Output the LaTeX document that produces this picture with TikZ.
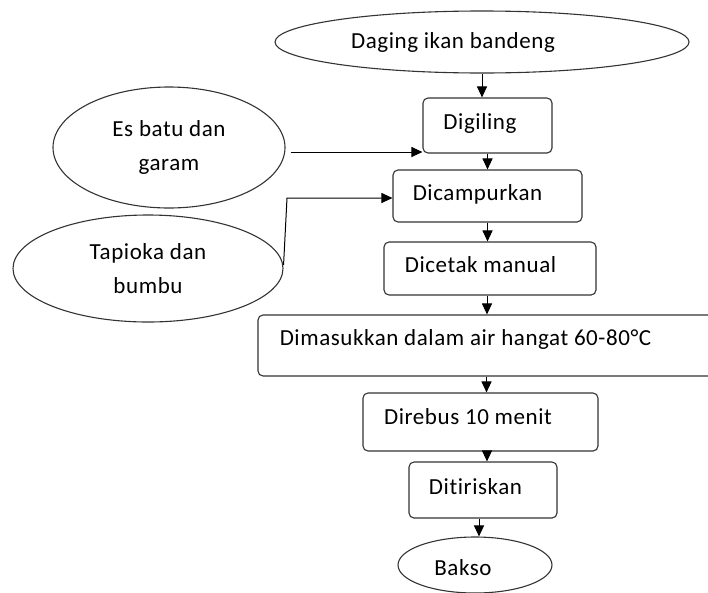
\documentclass[tikz,border=0pt]{standalone}
\usepackage{fontspec}
\setmainfont{Carlito}[Ligatures={NoCommon}, LetterSpace=2.5]
\usetikzlibrary{arrows.meta,shapes.geometric}
\begin{document}
\begin{tikzpicture}[x=1pt,y=-1pt,
  every node/.style={font=\fontsize{23}{34}\selectfont},
  shapeline/.style={draw=black!80, line width=1.1pt},
  oval/.style={shapeline, ellipse, inner sep=0pt, align=center},
  stepbox/.style={shapeline, rectangle, rounded corners=5pt, inner sep=0pt},
  arr/.style={line width=1pt, -{Triangle[length=11pt,width=10pt]}}
]
\useasboundingbox (0,0) rectangle (708,592);

% ovals
\node[oval, minimum width=414pt, minimum height=62pt] (daging) at (482,42) {};
\node at (453,42) {Daging ikan bandeng};
\node[oval, minimum width=232pt, minimum height=121pt] (es) at (169,147.5) {Es batu dan\\garam};
\node[oval, minimum width=270pt, minimum height=107pt] (tap) at (148,268.5) {Tapioka dan\\bumbu};
\node[oval, minimum width=154pt, minimum height=56pt] (bakso) at (475,565) {};
\node at (463,568) {Bakso};

% boxes
\node[stepbox, minimum width=129pt, minimum height=55pt,
  label={[xshift=-7.5pt,yshift=2.5pt]center:Digiling}] (dig) at (487.5,125.5) {};
\node[stepbox, minimum width=189pt, minimum height=52pt,
  label={[xshift=-10pt,yshift=2pt]center:Dicampurkan}] (camp) at (487.5,196) {};
\node[stepbox, minimum width=212pt, minimum height=53pt,
  label={[xshift=-9.5pt,yshift=3.5pt]center:Dicetak manual}] (cetak) at (490,268.5) {};
\node[stepbox, minimum width=457pt, minimum height=61pt,
  label={[xshift=-21pt,yshift=6.5pt]center:Dimasukkan dalam air hangat 60-80°C}] (big) at (486.5,345.5) {};
\node[stepbox, minimum width=235pt, minimum height=58pt,
  label={[xshift=-12.5pt,yshift=5pt]center:Direbus 10 menit}] (rebus) at (480.5,422) {};
\node[stepbox, minimum width=148pt, minimum height=56pt,
  label={[xshift=-7.5pt,yshift=3pt]center:Ditiriskan}] (tiris) at (483,490) {};

% connectors
\draw[arr] (daging.south) -- (daging.south |- dig.north);
\draw[arr] (dig.south) -- (dig.south |- camp.north);
\draw[arr] (camp.south) -- (camp.south |- cetak.north);
\draw[arr] ([xshift=-3pt]cetak.south) -- ([xshift=-3pt]cetak.south |- big.north);
\draw[arr] (big.south) -- (big.south |- rebus.north);
\draw[arr] ([xshift=6.5pt]rebus.south) -- ([xshift=6.5pt]rebus.south |- tiris.north);
\draw[arr] ([xshift=-4pt]tiris.south) -- ([xshift=-4pt]tiris.south |- bakso.north);

\coordinate (esout) at ([xshift=5pt,yshift=-4.5pt]es.east);
\draw[arr] (esout) -- (esout -| dig.west);
\coordinate (tapbend) at (287,198);
\draw[arr] ([yshift=3.5pt]tap.east) -- (tapbend) -- (tapbend -| camp.west);
\end{tikzpicture}
\end{document}
